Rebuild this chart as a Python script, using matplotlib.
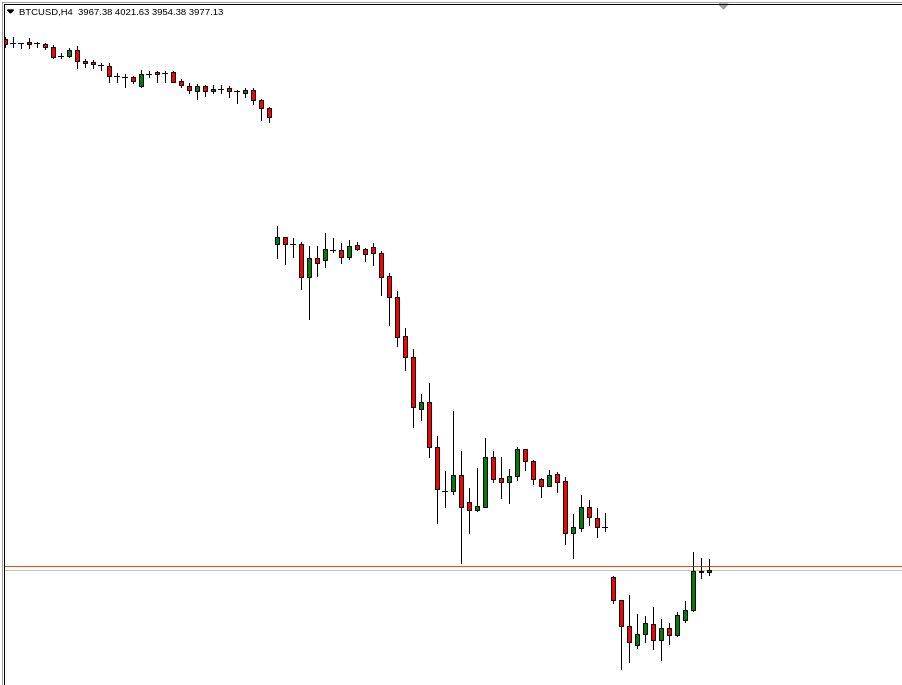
import numpy as np
import matplotlib
matplotlib.use("Agg")
import matplotlib.pyplot as plt
from matplotlib.lines import Line2D
from matplotlib.patches import Polygon

# BTCUSD H4 candles (oldest first)
symbol = "BTCUSD,H4"
last_ohlc = ["3967.38", "4021.63", "3954.38", "3977.13"]

opens = [6207, 6190, 6190, 6195, 6190, 6186, 6174, 6136, 6136, 6161,
         6115, 6111, 6098, 6094, 6052, 6048, 6048, 6010, 6060, 6069,
         6064, 6069, 6031, 6010, 5989, 6010, 5989, 5997, 6001, 5989,
         5980, 5993, 5951, 5917,
         5346, 5376, 5346, 5346, 5208, 5288, 5279, 5321, 5321, 5292,
         5342, 5325, 5334, 5308, 5212, 5124, 4960, 4872, 4653, 4683,
         4494, 4309, 4309, 4376, 4263, 4229, 4242, 4452, 4364, 4347,
         4372, 4485, 4435, 4359, 4330, 4380, 4351, 4132, 4153, 4242,
         4195, 4158,
         3948, 3851, 3742, 3662, 3708, 3750, 3683, 3733, 3704, 3767,
         3809, 3973, 3967.38]
highs = [6216, 6216, 6190, 6211, 6195, 6190, 6182, 6148, 6169, 6178,
         6123, 6119, 6106, 6106, 6064, 6060, 6052, 6077, 6073, 6073,
         6073, 6073, 6039, 6022, 6018, 6014, 6014, 6014, 6010, 5993,
         6001, 6001, 5955, 5922,
         5422, 5376, 5371, 5355, 5338, 5338, 5392, 5371, 5350, 5363,
         5355, 5329, 5350, 5317, 5224, 5149, 4993, 4905, 4716, 4762,
         4540, 4393, 4645, 4477, 4321, 4405, 4531, 4477, 4452, 4401,
         4494, 4485, 4439, 4364, 4397, 4389, 4368, 4212, 4292, 4271,
         4237, 4216,
         3952, 3851, 3872, 3792, 3784, 3822, 3771, 3754, 3801, 3847,
         4053, 4028, 4021.63]
lows = [6174, 6174, 6169, 6169, 6173, 6167, 6127, 6127, 6133, 6085,
        6090, 6085, 6077, 6027, 6027, 6006, 6022, 6006, 6048, 6027,
        6027, 6027, 6006, 5980, 5955, 5968, 5980, 5980, 5964, 5938,
        5964, 5934, 5867, 5859,
        5288, 5262, 5292, 5157, 5031, 5212, 5250, 5313, 5266, 5283,
        5321, 5275, 5258, 5132, 5006, 4918, 4817, 4578, 4607, 4452,
        4174, 4242, 4296, 4006, 4132, 4225, 4242, 4347, 4279, 4258,
        4355, 4397, 4338, 4284, 4330, 4305, 4086, 4027, 4141, 4166,
        4116, 4141,
        3838, 3561, 3591, 3650, 3675, 3645, 3599, 3666, 3700, 3759,
        3805, 3944, 3954.38]
closes = [6186, 6190, 6190, 6186, 6190, 6174, 6132, 6136, 6161, 6115,
          6106, 6102, 6098, 6052, 6052, 6048, 6031, 6060, 6060, 6060,
          6064, 6027, 6014, 5993, 6010, 5989, 5997, 5997, 5989, 5989,
          5993, 5951, 5917, 5880,
          5376, 5346, 5346, 5208, 5288, 5266, 5325, 5321, 5292, 5338,
          5325, 5304, 5308, 5208, 5124, 4956, 4872, 4662, 4683, 4494,
          4317, 4309, 4376, 4242, 4229, 4246, 4452, 4359, 4347, 4372,
          4485, 4435, 4359, 4330, 4376, 4347, 4132, 4158, 4242, 4200,
          4158, 4158,
          3851, 3742, 3675, 3708, 3754, 3683, 3733, 3704, 3788, 3809,
          3973, 3968, 3977.13]

level_line = 3994.0      # orange horizontal line
bid_line = 3977.13       # grey bid line

W, H = 902, 685
PX = 72 / 100  # one pixel in points
fig = plt.figure(figsize=(W / 100, H / 100), dpi=100)
fig.patch.set_facecolor("white")

# plot area sits inside the frame lines (pixel 4 .. 902, 4 .. 685)
ax = fig.add_axes([4 / W, 0, (W - 4) / W, (H - 4) / H])
ax.set_axis_off()

o = np.array(opens, dtype=float)
h = np.array(highs, dtype=float)
l = np.array(lows, dtype=float)
c = np.array(closes, dtype=float)
x = np.arange(len(o))

up = c > o
down = c < o
flat = c == o

ax.axhline(level_line, color="#FF4500", lw=PX, antialiased=False, zorder=1)
ax.axhline(bid_line, color="#C0C0C0", lw=PX, antialiased=False, zorder=1)

ax.vlines(x, l, h, color="black", lw=PX, antialiased=False, zorder=2)
ax.bar(x[up], (c - o)[up], bottom=o[up], width=0.5, color="#008000",
       edgecolor="black", linewidth=PX, zorder=3)
ax.bar(x[down], (c - o)[down], bottom=o[down], width=0.5, color="#FF0000",
       edgecolor="black", linewidth=PX, zorder=3)
ax.hlines(c[flat], x[flat] - 0.3, x[flat] + 0.3, color="black", lw=PX,
          antialiased=False, zorder=3)

# price scale: 4.2 per pixel, bid line at pixel row 570
ax.set_xlim((4 - 4.5) / 8, (W - 4.5) / 8)
ax.set_ylim(bid_line - 115 * 4.2, bid_line + 566 * 4.2)

# window frame
def fpx(px, py):
    return px / W, 1 - py / H

for (x0, y0, x1, y1, col) in [(1.5, 1.5, W, 1.5, "#A0A0A0"),
                              (1.5, 1.5, 1.5, H, "#A0A0A0"),
                              (3.5, 3.5, W, 3.5, "black"),
                              (3.5, 3.5, 3.5, H, "black")]:
    a, b = fpx(x0, y0)
    cc, d = fpx(x1, y1)
    fig.add_artist(Line2D([a, cc], [b, d], color=col, lw=PX,
                          antialiased=False, transform=fig.transFigure))

# small triangles
tri = Polygon([fpx(7.5, 10), fpx(13.5, 10), fpx(10.5, 13)], closed=True,
              color="black", transform=fig.transFigure)
fig.add_artist(tri)
shift = Polygon([fpx(719, 4), fpx(728, 4), fpx(723.5, 9)], closed=True,
                color="#A0A0A0", transform=fig.transFigure)
fig.add_artist(shift)

label = symbol + "  " + " ".join(last_ohlc)
fig.text(19 / W, 1 - 12 / H, label, ha="left", va="center", fontsize=6.8,
         color="black", family="Liberation Sans")

fig.savefig("out.png", dpi=100)
